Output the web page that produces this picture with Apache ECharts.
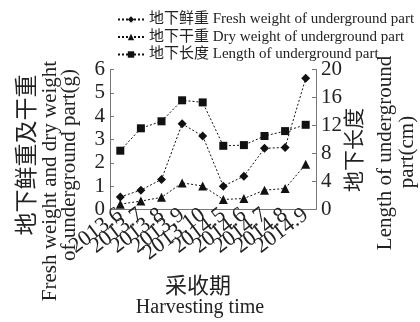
<!DOCTYPE html>
<html>
<head>
<meta charset="utf-8">
<script src="https://cdn.jsdelivr.net/npm/echarts@6/dist/echarts.min.js"></script>
<style>html,body{margin:0;padding:0;background:#fff}#c{width:420px;height:322px}</style>
</head>
<body>
<div id="c"></div>
<script>
const categories = ['2013.6','2013.7','2013.8','2013.9','2013.10','2014.5','2014.6','2014.7','2014.8','2014.9'];
const freshWeight = [0.54, 0.83, 1.29, 3.67, 3.15, 1.0, 1.43, 2.62, 2.66, 5.62];
const dryWeight = [0.23, 0.36, 0.52, 1.14, 1.01, 0.43, 0.47, 0.83, 0.9, 1.94];
const lengthCm = [8.4, 11.6, 12.6, 15.6, 15.3, 9.1, 9.2, 10.5, 11.2, 12.1];
const seriesNames = ['地下鲜重 Fresh weight of underground part','地下干重 Dry weight of underground part','地下长度 Length of underground part'];

const FONT = '"Liberation Serif", "Noto Sans CJK SC", serif';
const chart = echarts.init(document.getElementById('c'), null, {renderer:'canvas'});
const lineStyle = {color:'#111', width:1, type:[2,2]};
function mk(name, data, symbol, size, yIdx){
  return {name, type:'line', data, yAxisIndex:yIdx, symbol, symbolSize:size,
    itemStyle:{color:'#111'}, lineStyle, animation:false};
}
chart.setOption({
  animation:false,
  grid:{left:110, right:104, top:69.5, bottom:112.5, containLabel:false},
  legend:{orient:'vertical', left:112, top:7, itemWidth:26, itemHeight:8, itemGap:2.5,
    textStyle:{fontFamily:FONT, fontSize:15, color:'#222', lineHeight:15},
    data:seriesNames},
  xAxis:{type:'category', data:categories, boundaryGap:true,
    axisLine:{lineStyle:{color:'#777', width:1}},
    axisTick:{inside:true, length:4, lineStyle:{color:'#777'}},
    axisLabel:{interval:0, rotate:37, fontFamily:FONT, fontSize:22, color:'#222', margin:3}},
  yAxis:[
    {type:'value', min:0, max:6, interval:1, position:'left',
     axisLine:{show:true, lineStyle:{color:'#777'}},
     axisTick:{show:true, inside:true, length:4, lineStyle:{color:'#777'}},
     splitLine:{show:false},
     axisLabel:{fontFamily:FONT, fontSize:21, color:'#222', margin:5}},
    {type:'value', min:0, max:20, interval:4, position:'right',
     axisLine:{show:true, lineStyle:{color:'#777'}},
     axisTick:{show:true, inside:true, length:4, lineStyle:{color:'#777'}},
     splitLine:{show:false},
     axisLabel:{fontFamily:FONT, fontSize:21, color:'#222', margin:5}}
  ],
  series:[
    mk(seriesNames[0], freshWeight, 'diamond', 9, 0),
    mk(seriesNames[1], dryWeight, 'triangle', 9, 0),
    mk(seriesNames[2], lengthCm, 'rect', 8, 1)
  ],
  graphic:[
    {type:'text', x:28, y:155, rotation:Math.PI/2, style:{text:'地下鲜重及干重', font:'23px '+FONT, fill:'#222', align:'center', verticalAlign:'middle'}},
    {type:'text', x:50, y:181, rotation:Math.PI/2, style:{text:'Fresh weight and dry weight', font:'21px '+FONT, fill:'#222', align:'center', verticalAlign:'middle'}},
    {type:'text', x:69, y:165, rotation:Math.PI/2, style:{text:'of underground part(g)', font:'21px '+FONT, fill:'#222', align:'center', verticalAlign:'middle'}},
    {type:'text', x:355, y:150, rotation:Math.PI/2, style:{text:'地下长度', font:'21px '+FONT, fill:'#222', align:'center', verticalAlign:'middle'}},
    {type:'text', x:385, y:153, rotation:Math.PI/2, style:{text:'Length of underground', font:'21px '+FONT, fill:'#222', align:'center', verticalAlign:'middle'}},
    {type:'text', x:407, y:152, rotation:Math.PI/2, style:{text:'part(cm)', font:'21px '+FONT, fill:'#222', align:'center', verticalAlign:'middle'}},
    {type:'text', x:198, y:287, style:{text:'采收期', font:'22px '+FONT, fill:'#222', align:'center', verticalAlign:'middle'}},
    {type:'text', x:200, y:308, style:{text:'Harvesting time', font:'20px '+FONT, fill:'#222', align:'center', verticalAlign:'middle'}}
  ]
});
</script>
</body>
</html>
